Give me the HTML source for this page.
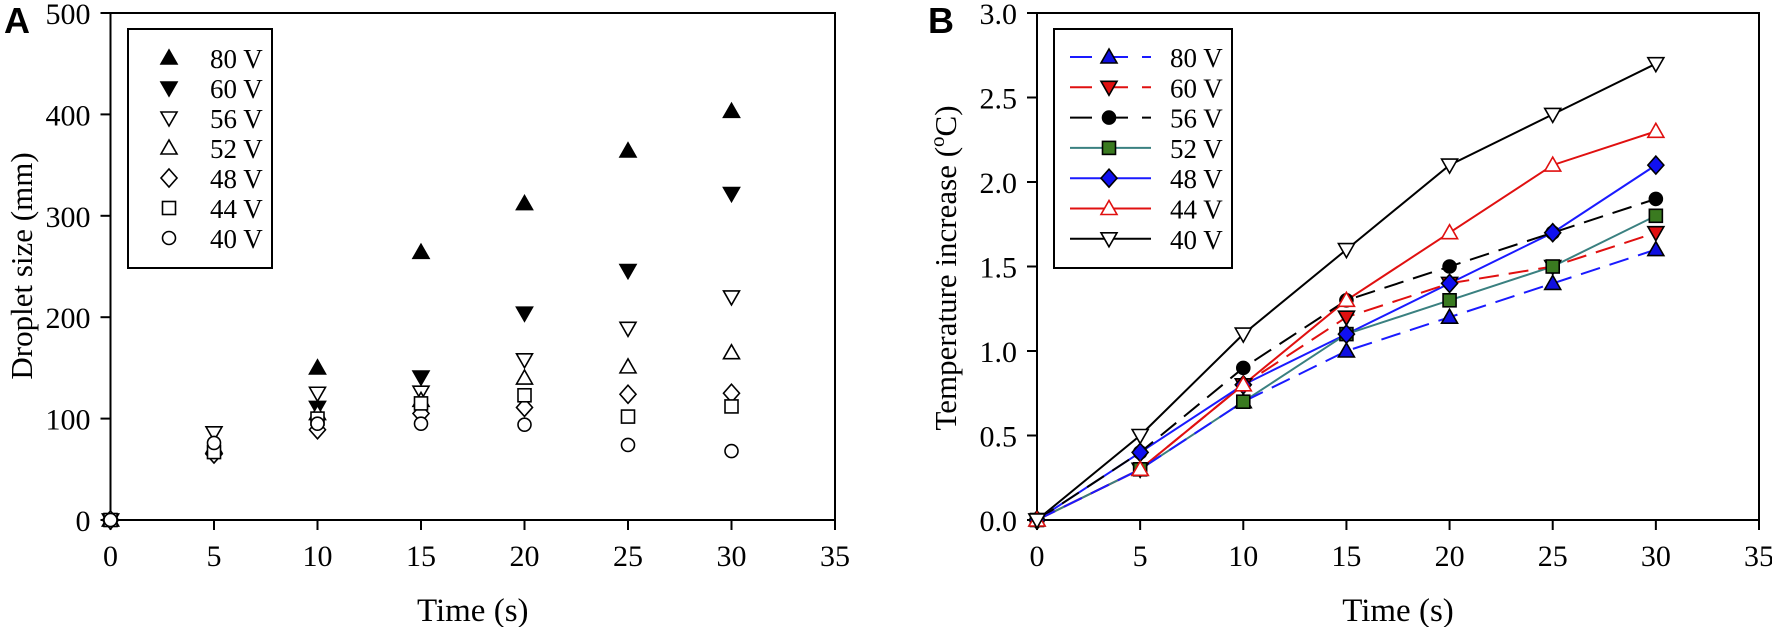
<!DOCTYPE html>
<html><head><meta charset="utf-8">
<style>
html,body{margin:0;padding:0;background:#fff;}
svg{display:block;font-family:"Liberation Serif",serif;}
</style></head>
<body>
<svg id="chart" width="1772" height="627" viewBox="0 0 1772 627" xmlns="http://www.w3.org/2000/svg">
<g id="pa"></g>
<g id="pb"></g>
</svg>
<script>
const times = [0, 5, 10, 15, 20, 25, 30];
const seriesLabels = ["80 V", "60 V", "56 V", "52 V", "48 V", "44 V", "40 V"];
const sizes80 = [0, null, 150, 264, 312, 364, 403];
const sizes60 = [0, null, 111, 141, 204, 246, 322];
const sizes56 = [0, 86, 125, 126, 158, 189, 220];
const sizes52 = [0, 72, 105, 118, 140, 151, 165];
const sizes48 = [0, 65, 89, 105, 111, 124, 125];
const sizes44 = [0, 67, 100, 115, 123, 102, 112];
const sizes40 = [0, 76, 95, 95, 94, 74, 68];
const temp80 = [0, 0.3, 0.7, 1.0, 1.2, 1.4, 1.6];
const temp60 = [0, 0.3, 0.8, 1.2, 1.4, 1.5, 1.7];
const temp56 = [0, 0.4, 0.9, 1.3, 1.5, 1.7, 1.9];
const temp52 = [0, 0.3, 0.7, 1.1, 1.3, 1.5, 1.8];
const temp48 = [0, 0.4, 0.8, 1.1, 1.4, 1.7, 2.1];
const temp44 = [0, 0.3, 0.8, 1.3, 1.7, 2.1, 2.3];
const temp40 = [0, 0.5, 1.1, 1.6, 2.1, 2.4, 2.7];
const xTicks = [0, 5, 10, 15, 20, 25, 30, 35];
const yTicksA = [0, 100, 200, 300, 400, 500];
const yTicksB = [0, 0.5, 1.0, 1.5, 2.0, 2.5, 3.0];

const NS = "http://www.w3.org/2000/svg";
function mk(parent, tag, attrs, text) {
  const e = document.createElementNS(NS, tag);
  for (const k in attrs) e.setAttribute(k, attrs[k]);
  if (text !== undefined) e.textContent = text;
  parent.appendChild(e);
  return e;
}
function marker(g, shape, x, y, fill, stroke) {
  let e;
  const s = 8;
  if (shape === "up") e = mk(g, "polygon", {points: `${x},${y-s} ${x-s},${y+s*0.75} ${x+s},${y+s*0.75}`});
  else if (shape === "down") e = mk(g, "polygon", {points: `${x},${y+s} ${x-s},${y-s*0.75} ${x+s},${y-s*0.75}`});
  else if (shape === "circle") e = mk(g, "circle", {cx: x, cy: y, r: 6.5});
  else if (shape === "square") e = mk(g, "rect", {x: x-6.5, y: y-6.5, width: 13, height: 13});
  else e = mk(g, "polygon", {points: `${x},${y-9} ${x+8},${y} ${x},${y+9} ${x-8},${y}`});
  e.setAttribute("fill", fill);
  e.setAttribute("stroke", stroke);
  e.setAttribute("stroke-width", "1.6");
  
  
  return e;
}
function axes(g, L, R, T, B, xmax, yTicks, ymax, fmt) {
  const sx = v => L + v / xmax * (R - L);
  const sy = v => B - v / ymax * (B - T);
  const frame = mk(g, "rect", {x: L, y: T, width: R - L, height: B - T, fill: "none", stroke: "#000", "stroke-width": 2});
  
  
  xTicks.forEach(t => {
    const x = sx(t);
    const tk = mk(g, "line", {x1: x, y1: B, x2: x, y2: B + 10, stroke: "#000", "stroke-width": 2});
    
    
    const lb = mk(g, "text", {x: x, y: B + 46, "text-anchor": "middle", "font-size": 30, fill: "#000"}, String(t));
    
    
  });
  yTicks.forEach(t => {
    const y = sy(t);
    const tk = mk(g, "line", {x1: L - 10, y1: y, x2: L, y2: y, stroke: "#000", "stroke-width": 2});
    
    
    const lb = mk(g, "text", {x: L - 20, y: y + 11, "text-anchor": "end", "font-size": 30, fill: "#000"}, fmt(t));
    
    
  });
  const xt = mk(g, "text", {x: (L + R) / 2, y: 621, "text-anchor": "middle", "font-size": 33, fill: "#000"}, "Time (s)");
  
  
  return {sx, sy};
}

/* Panel A */
const pa = document.getElementById("pa");
const A = axes(pa, 110.5, 835, 13, 520, 35, yTicksA, 500, t => String(t));
const la = mk(pa, "text", {x: 4, y: 33, "font-size": 36, "font-weight": "bold", "font-family": "Liberation Sans, sans-serif"}, "A");


const yta = mk(pa, "text", {x: 0, y: 0, transform: "translate(32,266) rotate(-90)", "text-anchor": "middle", "font-size": 31}, "Droplet size (mm)");


const seriesA = [sizes80, sizes60, sizes56, sizes52, sizes48, sizes44, sizes40];
const shapesA = ["up", "down", "down", "up", "diamond", "square", "circle"];
const fillsA = ["#000", "#000", "#fff", "#fff", "#fff", "#fff", "#fff"];
const legA = mk(pa, "rect", {x: 128, y: 29, width: 144, height: 239, fill: "#fff", stroke: "#000", "stroke-width": 2});


for (let i = 0; i < seriesA.length; i++) {
  seriesA[i].forEach((v, j) => { if (v !== null) marker(pa, shapesA[i], A.sx(times[j]), A.sy(v), fillsA[i], "#000"); });
}
seriesLabels.forEach((s, i) => {
  const y = 58 + i * 30;
  marker(pa, shapesA[i], 169, y, fillsA[i], "#000");
  const t = mk(pa, "text", {x: 210, y: y + 10, "font-size": 27}, s);
  
  
});

/* Panel B */
const pb = document.getElementById("pb");
const Bx = axes(pb, 1037, 1759, 13, 520, 35, yTicksB, 3.0, t => t.toFixed(1));
const lbB = mk(pb, "text", {x: 928, y: 33, "font-size": 36, "font-weight": "bold", "font-family": "Liberation Sans, sans-serif"}, "B");


const ytb = mk(pb, "text", {x: 0, y: 0, transform: "translate(956,268) rotate(-90)", "text-anchor": "middle", "font-size": 31}, "");


mk(ytb, "tspan", {}, "Temperature increase (");
mk(ytb, "tspan", {dy: -12, "font-size": 21}, "o");
mk(ytb, "tspan", {dy: 12}, "C)");
const seriesB = [temp80, temp60, temp56, temp52, temp48, temp44, temp40];
const shapesB = ["up", "down", "circle", "square", "diamond", "up", "down"];
const fillsB = ["#1010e0", "#e01010", "#000", "#3a7a20", "#1010f0", "#fff", "#fff"];
const strokesB = ["#000", "#000", "#000", "#000", "#000", "#e01010", "#000"];
const linesB = ["#1a1aff", "#e01010", "#000", "#3a8080", "#1a1aff", "#e01010", "#000"];
const dashB = ["20 10", "20 10", "20 10", null, null, null, null];
for (let i = seriesB.length - 1; i >= 0; i--) {
  const pts = seriesB[i].map((v, j) => `${Bx.sx(times[j])},${Bx.sy(v)}`).join(" ");
  const pl = mk(pb, "polyline", {points: pts, fill: "none", stroke: linesB[i], "stroke-width": 2});
  if (dashB[i]) pl.setAttribute("stroke-dasharray", dashB[i]);
  
  
}
for (let i = 0; i < seriesB.length; i++) {
  seriesB[i].forEach((v, j) => marker(pb, shapesB[i], Bx.sx(times[j]), Bx.sy(v), fillsB[i], strokesB[i]));
}
const legB = mk(pb, "rect", {x: 1054, y: 29, width: 178, height: 239, fill: "#fff", stroke: "#000", "stroke-width": 2});


seriesLabels.forEach((s, i) => {
  const y = 57 + i * 30.3;
  const ln = mk(pb, "line", {x1: 1070, y1: y, x2: 1151, y2: y, stroke: linesB[i], "stroke-width": 2});
  if (dashB[i]) ln.setAttribute("stroke-dasharray", "22 14");
  
  
  marker(pb, shapesB[i], 1109, y, fillsB[i], strokesB[i]);
  const t = mk(pb, "text", {x: 1170, y: y + 10, "font-size": 27}, s);
  
  
});
</script>
</body></html>
